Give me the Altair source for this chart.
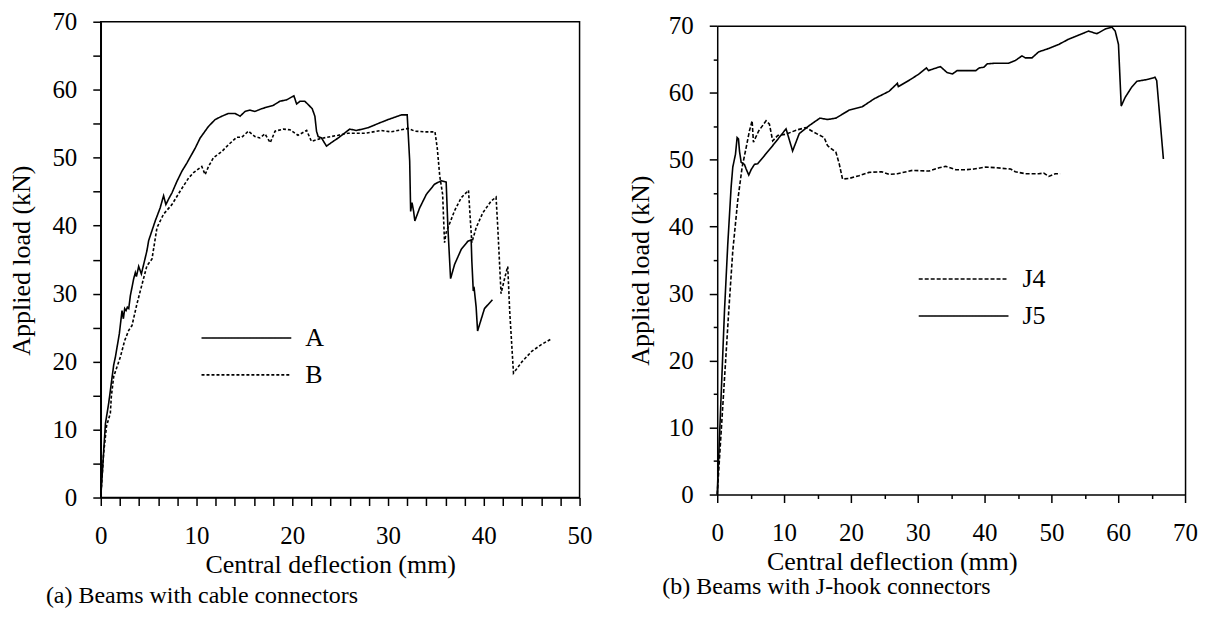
import altair as alt
import pandas as pd

FONT = "Liberation Serif"

# ---------------- Panel (a): cable connectors ----------------
A_x = [0, 0.31, 0.49, 0.83, 1.35, 1.53, 1.94, 2.22, 2.36, 2.5, 2.64, 2.78, 2.92, 3.09, 3.44, 3.61, 3.72,
       3.96, 4.24, 4.48, 4.82, 5.0, 5.69, 6.2, 6.56, 6.8, 7.08, 7.43, 7.95, 8.47, 8.99, 9.86, 10.38,
       11.25, 11.94, 12.64, 12.99, 13.33, 14.03, 14.55, 15.07, 15.59, 16.1, 16.8, 17.5, 18.02, 18.7,
       19.4, 20.17, 20.45, 20.8, 21.3, 21.67, 22.08, 22.36, 22.53, 22.7, 23.05, 23.57, 24.27, 24.8,
       26.0, 26.7, 27.9, 29.1, 30.0, 31.4, 32.0, 32.26, 32.36, 32.5, 32.67, 32.8, 33.3, 34.0, 34.86,
       35.55, 36.07, 36.25, 36.53, 36.95, 37.64, 38.33, 38.68, 38.75, 38.9, 39.0, 39.2, 39.35, 40.07, 40.9]
A_y = [0, 7.0, 10.9, 13.9, 19.5, 20.7, 24.1, 27.5, 26.3, 27.8, 27.5, 28.0, 27.8, 29.7, 32.2, 33.1, 32.5,
       34.0, 32.9, 34.3, 36.3, 37.8, 40.7, 42.6, 44.4, 43.1, 43.9, 44.8, 46.5, 48.0, 49.2, 51.4, 52.9,
       54.6, 55.6, 56.1, 56.3, 56.5, 56.5, 56.1, 56.8, 57.0, 56.8, 57.2, 57.5, 57.7, 58.3,
       58.5, 59.1, 57.9, 58.3, 58.3, 57.8, 57.2, 56.1, 53.9, 53.1, 52.9, 51.7, 52.4, 52.9,
       54.2, 54.0, 54.4, 55.1, 55.6, 56.3, 56.3, 49.5, 42.1, 43.4, 42.1, 40.7, 42.6, 44.6, 46.1,
       46.6, 46.4, 39.7, 32.2, 34.3, 36.5, 37.7, 37.9, 34.8, 30.4, 30.7, 28.0, 24.5, 27.8, 29.1]

B_x = [0, 0.3, 0.6, 1.0, 1.1, 1.35, 2.05, 2.5, 2.92, 3.26, 3.78, 4.13, 4.82, 5.35, 5.87, 6.56, 7.43,
       8.3, 9.17, 9.69, 10.55, 10.9, 11.25, 11.77, 12.64, 13.33, 14.2, 14.72, 15.42, 16.1, 16.6,
       17.15, 17.7, 18.2, 19.06, 19.76, 20.6, 21.5, 22.0, 22.9, 24.8, 25.8, 27.6, 29.3, 30.3, 32.1,
       32.8, 33.8, 34.9, 35.14, 35.4, 35.7, 35.9, 36.07, 36.4, 36.95, 37.64, 38.4, 38.6, 38.75, 39.2,
       39.9, 40.76, 41.28, 41.46, 41.8, 42.2, 42.5, 42.7, 43.1, 44.0, 45.0, 46.0, 47.0]
B_y = [0, 6.5, 10.5, 12.4, 14.8, 17.8, 20.7, 23.1, 24.6, 25.3, 28.5, 30.4, 34.1, 35.1, 39.7, 41.7, 43.1,
       45.1, 47.0, 47.8, 48.7, 47.5, 48.7, 50.0, 50.9, 51.9, 53.0, 53.0, 53.9, 53.1, 52.9,
       53.5, 52.2, 53.9, 54.2, 54.1, 53.3, 54.0, 52.4, 52.8, 53.3, 53.6, 53.6, 54.0, 53.8, 54.3,
       53.9, 53.8, 53.8, 51.4, 47.3, 44.6, 37.5, 39.0, 40.2, 42.2, 44.1, 45.2, 40.7, 37.5, 39.7,
       41.9, 43.6, 44.2, 39.7, 30.0, 32.4, 34.0, 27.5, 18.3, 20.0, 21.5, 22.5, 23.3]

# ---------------- Panel (b): J-hook connectors ----------------
J4_x = [0, 1.73, 2.33, 3.07, 3.73, 4.33, 4.82, 5.22, 5.42, 6.21, 7.31, 7.81, 8.3, 9.05, 10.3, 11.8,
        13.3, 14.27, 16.0, 16.5, 17.76, 18.25, 18.75, 19.75, 21.2, 22.7, 24.6, 25.7, 26.96, 29.2,
        31.7, 33.2, 34.2, 35.7, 37.2, 38.4, 40.15, 41.6, 43.9, 44.6, 46.1, 48.1, 48.85, 49.6, 50.6, 51.3]
J4_y = [0, 27.5, 36.4, 43.9, 48.9, 51.8, 54.3, 55.8, 52.6, 54.3, 55.8, 55.3, 52.8, 53.6, 53.8, 54.4,
        54.8, 54.2, 53.3, 52.1, 51.1, 49.4, 47.1, 47.2, 47.6, 48.1, 48.2, 47.8, 47.9, 48.4,
        48.3, 48.8, 49.0, 48.5, 48.5, 48.6, 48.9, 48.8, 48.6, 48.2, 47.9, 47.9, 48.0, 47.5, 47.9, 47.9]

J5_x = [0, 1.09, 1.58, 2.08, 2.33, 2.73, 2.98, 3.18, 3.33, 3.58, 4.07, 4.33, 4.72, 5.07, 5.57, 6.06,
        7.31, 8.55, 10.3, 11.28, 12.28, 13.78, 15.37, 16.5, 17.76, 18.75, 19.75, 21.7, 23.5, 25.7,
        26.96, 27.1, 28.96, 30.2, 31.3, 31.6, 33.4, 34.4, 35.2, 35.9, 38.7, 39.2, 39.9, 40.4, 41.6,
        43.6, 44.6, 45.6, 46.1, 47.1, 48.1, 49.6, 51.1, 52.6, 54.1, 55.55, 56.8, 58.06, 59.05, 59.55,
        60.04, 60.45, 61.04, 62.0, 62.8, 64.5, 65.5, 65.76, 66.76]
J5_y = [0, 27.5, 37.4, 45.9, 48.9, 50.8, 53.3, 53.1, 51.3, 49.6, 49.3, 48.6, 47.7, 48.5, 49.3, 49.4,
        50.9, 52.4, 54.6, 51.3, 53.9, 55.1, 56.2, 56.0, 56.2, 56.8, 57.4, 57.9, 59.1, 60.2,
        61.4, 60.9, 62.0, 62.8, 63.7, 63.3, 63.9, 63.0, 62.8, 63.3, 63.3, 63.7, 63.8, 64.3, 64.4,
        64.4, 64.8, 65.5, 65.2, 65.2, 66.1, 66.6, 67.2, 68.0, 68.6, 69.2, 68.8, 69.5, 69.8, 69.2,
        67.2, 58.0, 59.3, 60.8, 61.7, 62.0, 62.3, 61.8, 50.1]

left_series = ["A", "B"]
right_series = ["J4", "J5"]
left_ticks_x = list(range(0, 51, 2))
right_ticks_x = list(range(0, 71, 5))
ticks_y = list(range(0, 71, 5))


def frame(xs, ys, name):
    return pd.DataFrame({"x": xs, "y": ys, "s": name, "o": list(range(len(xs)))})


left_df = pd.concat([frame(A_x, A_y, "A"), frame(B_x, B_y, "B")], ignore_index=True)
right_df = pd.concat([frame(J4_x, J4_y, "J4"), frame(J5_x, J5_y, "J5")], ignore_index=True)

common_axis = dict(
    labelFont=FONT, labelFontSize=25, labelColor="black",
    titleFont=FONT, titleFontSize=26, titleFontWeight="normal", titleColor="black",
    tickColor="black", tickWidth=1.5, domainColor="black", domainWidth=1.5,
    grid=False, labelOverlap=False, labelFlush=False,
    labelExpr="datum.value % 10 === 0 ? datum.label : ''",
)


def x_axis(vals, title_x, minor):
    return alt.Axis(values=vals, title="Central deflection (mm)", titleX=title_x, titleY=75,
                    titleBaseline="alphabetic", labelPadding=18,
                    tickSize={"condition": {"test": "datum.value % 10 === 0", "value": 8}, "value": minor},
                    **common_axis)


def y_axis(title_x, title_y, minor):
    return alt.Axis(values=ticks_y, title="Applied load (kN)", titleX=title_x, titleY=title_y,
                    titleBaseline="alphabetic", titleAngle=-90, labelPadding=16,
                    tickSize={"condition": {"test": "datum.value % 10 === 0", "value": 8}, "value": minor},
                    **common_axis)


def legend(lx, ly):
    return alt.Legend(title=None, orient="none", legendX=lx, legendY=ly,
                      symbolType="M-5,0H5", symbolSize=324, symbolStrokeWidth=1.6,
                      symbolStrokeColor="black", labelFont=FONT, labelFontSize=26,
                      labelColor="black", labelOffset=46, rowPadding=11, padding=0)


def caption(text, dx, offset):
    return alt.TitleParams(text, orient="bottom", anchor="start", frame="group", dx=dx, offset=offset,
                           font=FONT, fontSize=24, fontWeight="normal", color="black")


# ---- panel (a)
left = alt.Chart(left_df).mark_line(color="black", strokeWidth=1.6).encode(
    x=alt.X("x:Q", scale=alt.Scale(domain=[0, 50], nice=False), axis=x_axis(left_ticks_x, 230, 8)),
    y=alt.Y("y:Q", scale=alt.Scale(domain=[0, 70], nice=False), axis=y_axis(-71, 239, 8)),
    strokeDash=alt.StrokeDash("s:N", scale=alt.Scale(domain=left_series, range=[[1, 0], [3, 2]]),
                              legend=legend(133, 304)),
    order="o:Q",
).properties(width=480, height=477, title=caption("(a) Beams with cable connectors", -55, 7))

# ---- panel (b): its plot frame sits a few pixels lower than panel (a)'s
RH = 474
RTOP = 4
rx_scale = alt.Scale(domain=[0, 70], nice=False)
ry_scale = alt.Scale(domain=[0, 70], nice=False, range=[RH, RTOP])

right_lines = alt.Chart(right_df).mark_line(color="black", strokeWidth=1.6).encode(
    x=alt.X("x:Q", scale=rx_scale, axis=x_axis(right_ticks_x, 175, 4)),
    y=alt.Y("y:Q", scale=ry_scale, axis=y_axis(-69, 249, 4)),
    strokeDash=alt.StrokeDash("s:N", scale=alt.Scale(domain=right_series, range=[[4, 2], [1, 0]]),
                              legend=legend(234, 245)),
    order="o:Q",
)
frame_axis = dict(labels=False, ticks=False, domainColor="black", domainWidth=1.5, grid=False)
right_frame = alt.Chart(right_df).mark_line(opacity=0).encode(
    x=alt.X("x:Q", scale=rx_scale, title=None, axis=alt.Axis(orient="top", offset=-RTOP, **frame_axis)),
    y=alt.Y("y:Q", scale=ry_scale, title=None, axis=alt.Axis(orient="right", **frame_axis)),
    detail="s:N",
    order="o:Q",
)
right = alt.layer(right_lines, right_frame).resolve_axis(x="independent", y="independent").properties(
    width=469, height=RH, title=caption("(b) Beams with J-hook connectors", -55, 1),
    view=alt.ViewBackground(stroke="transparent"),
)

chart = alt.hconcat(left, right, spacing=33).resolve_scale(
    x="independent", y="independent", strokeDash="independent"
).resolve_legend(strokeDash="independent").configure_view(
    stroke="black", strokeWidth=1.5
).properties(padding={"left": 0, "top": 0, "right": 5, "bottom": 0}, background="white")

chart.save("out.html", embed_options={"renderer": "svg", "actions": False})
